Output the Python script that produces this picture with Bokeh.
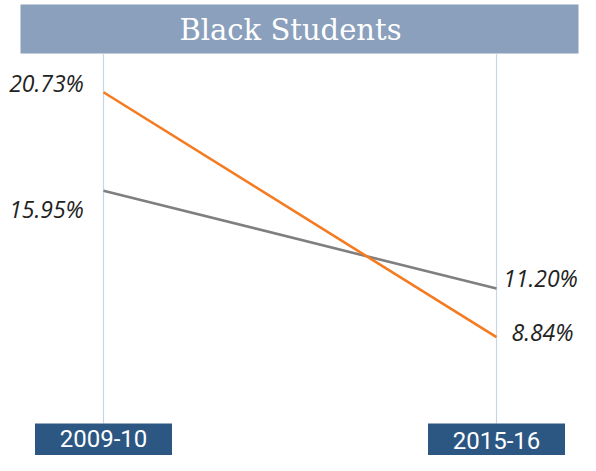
from bokeh.plotting import figure
from bokeh.models import Range1d, BoxAnnotation, ColumnDataSource
from bokeh.core.properties import value
from bokeh.embed import file_html
from bokeh.resources import INLINE

# ---- data ----
title_text = "Black Students"
years = ["2009-10", "2015-16"]
series_a = [20.73, 8.84]    # orange
series_b = [15.95, 11.20]   # grey
series_a_labels = ["20.73%", "8.84%"]
series_b_labels = ["15.95%", "11.20%"]

# ---- layout helpers (canvas pixel -> data), layout only ----
X0, XS = 103.0, 393.0
Y0, YS = 518.8, 20.6
def X(px):
    return (px - X0) / XS
def Y(py):
    return (Y0 - py) / YS

W, H = 580, 455
p = figure(width=W, height=H, output_backend="svg", toolbar_location=None,
           x_range=Range1d(X(0), X(W)), y_range=Range1d(Y(H), Y(0)),
           min_border=0, outline_line_color=None)
p.axis.visible = False
p.grid.visible = False
p.background_fill_color = "white"
p.border_fill_color = "white"

xs = list(range(len(years)))

# title bar
p.add_layout(BoxAnnotation(left=X(20), right=X(578), top=Y(4), bottom=Y(53),
                           fill_color="#8aa0bd", fill_alpha=1, line_alpha=0, level="underlay"))
p.text(x=[X(290)], y=[Y(29)], text=[title_text], text_color="white",
       text_font=value("DejaVu Serif"), text_font_size="29px",
       text_align="center", text_baseline="alphabetic")

# vertical guides
p.segment(x0=xs, y0=[Y(53)] * 2, x1=xs, y1=[Y(423)] * 2, line_color="#c9d5e1", line_width=1.2)

# lines
p.line(xs, series_b, line_color="#7f7f7f", line_width=2.6)
p.line(xs, series_a, line_color="#f47b20", line_width=2.6)

# value labels
lab = ColumnDataSource(dict(
    x=[0, 0, 1, 1],
    y=[series_a[0], series_b[0], series_b[1], series_a[1]],
    t=[series_a_labels[0], series_b_labels[0], series_b_labels[1], series_a_labels[1]],
    xo=[-57, -57, 44, 46],
    yo=[-9, 18, -11, -5],
))
p.text(x="x", y="y", text="t", x_offset="xo", y_offset="yo", source=lab,
       text_color="#222222", text_font=value("Open Sans"), text_font_style="italic",
       text_font_size="23px", text_align="center", text_baseline="alphabetic")

# category boxes
p.quad(left=[x - 68.5 / XS for x in xs], right=[x + 68.5 / XS for x in xs],
       top=[Y(423)] * 2, bottom=[Y(480)] * 2, fill_color="#2c5782", line_color=None)
p.text(x=xs, y=[Y(438), Y(440)], text=years, text_color="white",
       text_font=value("Roboto"), text_font_size="24px",
       text_align="center", text_baseline="alphabetic")

open("out.html", "w").write(file_html(p, INLINE))
